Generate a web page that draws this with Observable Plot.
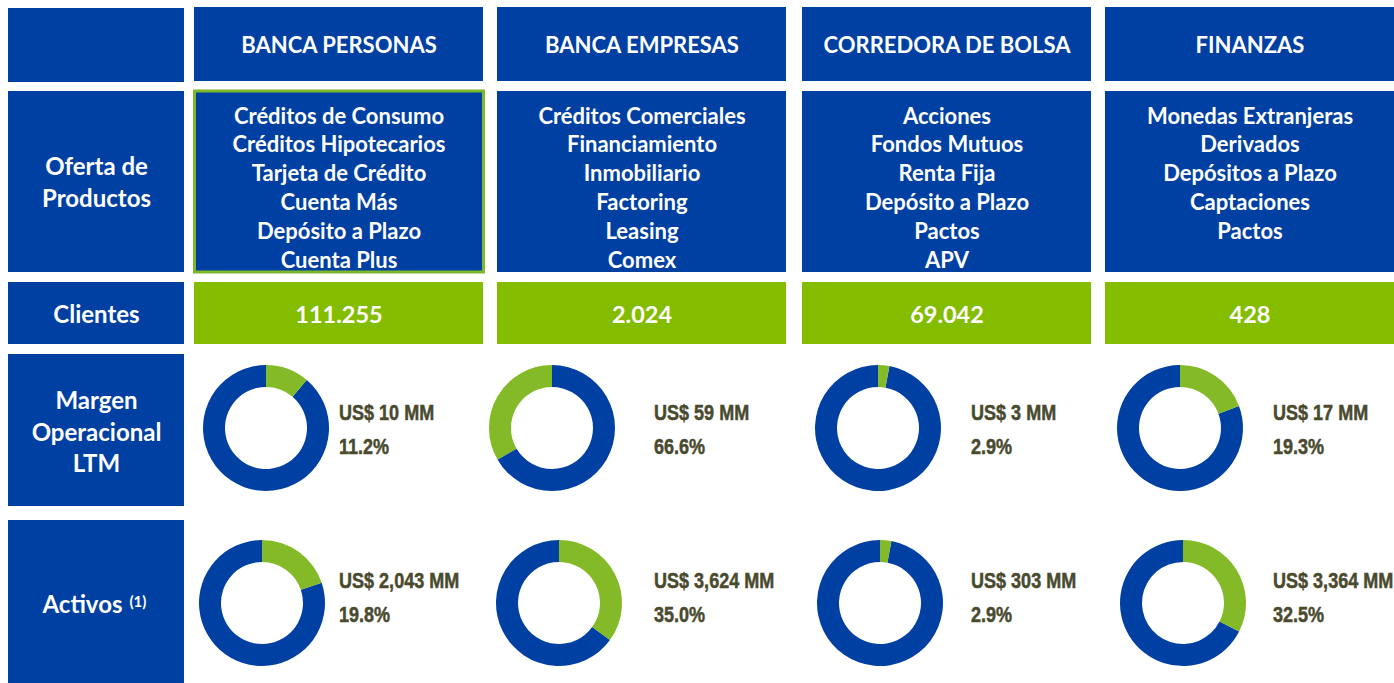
<!DOCTYPE html>
<html><head><meta charset="utf-8">
<script src="https://cdn.jsdelivr.net/npm/d3@7"></script>
<script src="https://cdn.jsdelivr.net/npm/@observablehq/plot@0.6"></script>
<style>html,body{margin:0;padding:0;background:#fff;overflow:hidden}</style>
</head><body><div id="chart"></div>
<script>
// ---------- DATA ----------
const segments = ["BANCA PERSONAS", "BANCA EMPRESAS", "CORREDORA DE BOLSA", "FINANZAS"];
const rowLabels = [["Oferta de", "Productos"], ["Clientes"], ["Margen", "Operacional", "LTM"], ["Activos"]];
const activosNote = "(1)";
const products = [
  ["Créditos de Consumo", "Créditos Hipotecarios", "Tarjeta de Crédito", "Cuenta Más", "Depósito a Plazo", "Cuenta Plus"],
  ["Créditos Comerciales", "Financiamiento", "Inmobiliario", "Factoring", "Leasing", "Comex"],
  ["Acciones", "Fondos Mutuos", "Renta Fija", "Depósito a Plazo", "Pactos", "APV"],
  ["Monedas Extranjeras", "Derivados", "Depósitos a Plazo", "Captaciones", "Pactos"]
];
const clientes = ["111.255", "2.024", "69.042", "428"];
const margenMM = ["10", "59", "3", "17"];
const margenPct = [11.2, 66.6, 2.9, 19.3];
const margenFirstSlice = ["green", "blue", "green", "green"]; // colour of the slice drawn first, clockwise from 12 o'clock
const activosMM = ["2,043", "3,624", "303", "3,364"];
const activosPct = [19.8, 35.0, 2.9, 32.5];
const activosFirstSlice = ["green", "green", "green", "green"];

// ---------- LAYOUT / STYLE ----------
const W = 1394, H = 683;
const BLUE = "#0040A3", GREEN = "#84BD00", DGREEN = "#84BA28", DARK = "#4A4A2E";
const labelCol = [8, 184];
const colX = [194, 497, 802, 1105], colW = 289;
const rows = {header: [7, 81], prod: [91, 272], cli: [282, 344], mar: [354, 506], act: [520, 683]};
const donutOffMar = [72, 55, 76, 75], donutOffAct = [68, 62, 78, 78];
const textOff = [145, 157, 169, 168];
const R0 = 63, R1 = 41;
const FONT = "Lato, 'Open Sans', sans-serif";
const ARIAL = "'Liberation Sans', Arial, sans-serif";

// rectangles
const cells = [];
for (const r of [[8, 82], rows.prod, rows.cli, rows.mar, rows.act])
  cells.push({x1: labelCol[0], x2: labelCol[1], y1: r[0], y2: r[1], fill: BLUE});
segments.forEach((s, i) => {
  cells.push({x1: colX[i], x2: colX[i] + colW, y1: rows.header[0], y2: rows.header[1], fill: BLUE});
  if (i > 0) cells.push({x1: colX[i], x2: colX[i] + colW, y1: rows.prod[0], y2: rows.prod[1], fill: BLUE});
  cells.push({x1: colX[i], x2: colX[i] + colW, y1: rows.cli[0], y2: rows.cli[1], fill: GREEN});
});
const highlight = [{x1: colX[0] + 0.5, x2: colX[0] + colW + 0.5, y1: rows.prod[0], y2: rows.prod[1]}];

// texts (baseline positions)
const headText = segments.map((s, i) => ({x: colX[i] + colW / 2, y: 52, t: s}));
const prodText = [];
products.forEach((list, i) => list.forEach((p, j) => prodText.push({x: colX[i] + colW / 2, y: 123 + 28.9 * j, t: p})));
const cliText = clientes.map((c, i) => ({x: colX[i] + colW / 2, y: 322, t: c}));
const labelX = (labelCol[0] + labelCol[1]) / 2;
const labelBase = [[174, 206], [322], [408, 440, 471], [612]];
const labelText = [];
rowLabels.forEach((ls, r) => { if (r < 3) ls.forEach((l, j) => labelText.push({x: labelX, y: labelBase[r][j], t: l})); });

const darkText = [];
segments.forEach((s, i) => {
  darkText.push({x: colX[i] + textOff[i], y: 420, t: `US$ ${margenMM[i]} MM`});
  darkText.push({x: colX[i] + textOff[i], y: 454, t: `${margenPct[i].toFixed(1)}%`});
  darkText.push({x: colX[i] + textOff[i], y: 588, t: `US$ ${activosMM[i]} MM`});
  darkText.push({x: colX[i] + textOff[i], y: 622, t: `${activosPct[i].toFixed(1)}%`});
});

const donuts = [];
segments.forEach((s, i) => {
  donuts.push({cx: colX[i] + donutOffMar[i], cy: 428, pct: margenPct[i], first: margenFirstSlice[i]});
  donuts.push({cx: colX[i] + donutOffAct[i], cy: 603, pct: activosPct[i], first: activosFirstSlice[i]});
});

function donutMark(data) {
  return function (index, scales) {
    const g = d3.create("svg:g");
    const arc = d3.arc().innerRadius(R1).outerRadius(R0);
    const col = c => c === "green" ? DGREEN : BLUE;
    for (const d of data) {
      const a = 2 * Math.PI * d.pct / 100;
      const other = d.first === "green" ? "blue" : "green";
      const gg = g.append("g").attr("transform", `translate(${scales.x(d.cx)},${scales.y(d.cy)})`);
      gg.append("path").attr("d", arc({startAngle: a, endAngle: 2 * Math.PI})).attr("fill", col(other));
      gg.append("path").attr("d", arc({startAngle: 0, endAngle: a})).attr("fill", col(d.first));
    }
    return g.node();
  };
}

// condensed bold labels (Arial Narrow look: Liberation Sans compressed horizontally)
function narrowText(data) {
  return function (index, scales) {
    const g = d3.create("svg:g")
      .attr("fill", DARK).attr("stroke", DARK).attr("stroke-width", 0.5)
      .attr("font-family", ARIAL).attr("font-weight", "bold")
      .attr("font-size", 22).attr("text-anchor", "start");
    for (const d of data) {
      g.append("text")
        .attr("transform", `translate(${scales.x(d.x)},${scales.y(d.y)}) scale(0.82,1)`)
        .text(d.t);
    }
    return g.node();
  };
}

const whiteOpts = (size) => ({x: "x", y: "y", text: "t", fill: "white", fontSize: size, fontWeight: "bold", fontFamily: FONT, lineAnchor: "bottom"});

const chart = Plot.plot({
  width: W, height: H,
  margin: 0,
  x: {domain: [0, W], range: [0, W], axis: null},
  y: {domain: [0, H], range: [0, H], axis: null},
  style: {background: "#fff"},
  marks: [
    Plot.rect(cells, {x1: "x1", x2: "x2", y1: "y1", y2: "y2", fill: d => d.fill}),
    Plot.rect(highlight, {x1: "x1", x2: "x2", y1: "y1", y2: "y2", fill: BLUE, stroke: "#7CB82A", strokeWidth: 3}),
    Plot.text(headText, whiteOpts(22)),
    Plot.text(prodText, whiteOpts(22)),
    Plot.text(cliText, whiteOpts(23.5)),
    Plot.text(labelText, whiteOpts(24)),
    Plot.text([{x: 122, y: 612, t: rowLabels[3][0]}], {...whiteOpts(24), textAnchor: "end"}),
    Plot.text([{x: 129, y: 606, t: activosNote}], {...whiteOpts(15), textAnchor: "start"}),
    donutMark(donuts),
    narrowText(darkText)
  ]
});
document.getElementById("chart").append(chart);
</script>
</body></html>
